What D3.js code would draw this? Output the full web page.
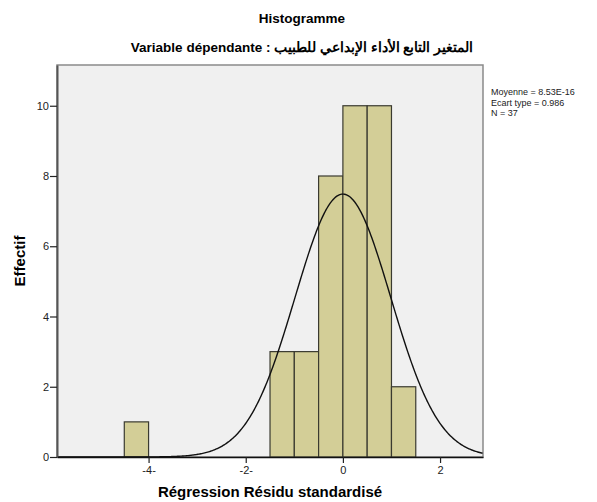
<!DOCTYPE html>
<html>
<head>
<meta charset="utf-8">
<script src="https://cdn.jsdelivr.net/npm/d3@7"></script>
<style>
  body { margin: 0; background: #fff; }
  svg { display: block; font-family: "Liberation Sans", Arial, sans-serif; }
</style>
</head>
<body>
<div class="graphic"></div>
<script>
// histogram of standardized residuals (SPSS style)
var binLower = [-4.5, -1.5, -1.0, -0.5, 0.0, 0.5, 1.0];
var counts = [1, 3, 3, 8, 10, 10, 2];
var binWidth = 0.5;

var xTicks = [-4, -2, 0, 2];
var xTickLabels = ["-4-", "-2-", "0", "2"];
var yTicks = [0, 2, 4, 6, 8, 10];

var statMean = 8.53e-16;
var statSd = 0.986;
var statN = 37;
var statLines = ["Moyenne = 8.53E-16", "Ecart type = 0.986", "N = 37"];

var width = 597, height = 502;
var plot = { left: 57, top: 65, right: 483, bottom: 457 };

var svg = d3.select(".graphic").append("svg")
  .attr("width", width)
  .attr("height", height);

var x = d3.scaleLinear().domain([-5.885, 2.884]).range([plot.left, plot.right]);
var y = d3.scaleLinear().domain([0, 11.16]).range([plot.bottom, plot.top]);

// titles
svg.append("text")
  .attr("x", 302).attr("y", 23)
  .attr("text-anchor", "middle")
  .attr("font-size", 13.5).attr("font-weight", "bold")
  .text("Histogramme");

svg.append("text")
  .attr("x", 302).attr("y", 52)
  .attr("text-anchor", "middle")
  .attr("font-size", 13.5).attr("font-weight", "bold")
  .attr("direction", "ltr")
  .text("Variable dépendante : \u202Bالمتغير التابع الأداء الإبداعي للطبيب\u202C");

// plot background
svg.append("rect")
  .attr("x", plot.left).attr("y", plot.top)
  .attr("width", plot.right - plot.left)
  .attr("height", plot.bottom - plot.top)
  .attr("fill", "#f0f0f0")
  .attr("stroke", "#8a8a8a")
  .attr("stroke-width", 1.5);

svg.append("clipPath").attr("id", "clip")
  .append("rect")
  .attr("x", plot.left).attr("y", plot.top)
  .attr("width", plot.right - plot.left)
  .attr("height", plot.bottom - plot.top);

// bars
svg.append("g").selectAll("rect")
  .data(counts)
  .enter()
  .append("rect")
  .attr("x", function(d, i) { return x(binLower[i]); })
  .attr("y", function(d) { return y(d); })
  .attr("width", function(d, i) { return x(binLower[i] + binWidth) - x(binLower[i]); })
  .attr("height", function(d) { return y(0) - y(d); })
  .attr("fill", "#d3ce97")
  .attr("stroke", "#3a3a30")
  .attr("stroke-width", 1.2);

// normal curve
var curvePts = d3.range(x.domain()[0], x.domain()[1] + 0.01, 0.02).map(function(v) {
  var z = (v - statMean) / statSd;
  return [v, statN * binWidth * Math.exp(-0.5 * z * z) / (statSd * Math.sqrt(2 * Math.PI))];
});

svg.append("path")
  .datum(curvePts)
  .attr("clip-path", "url(#clip)")
  .attr("fill", "none")
  .attr("stroke", "#111")
  .attr("stroke-width", 1.4)
  .attr("d", d3.line()
    .x(function(d) { return x(d[0]); })
    .y(function(d) { return y(d[1]); }));

// axes
var yAxis = svg.append("g")
  .attr("transform", "translate(" + plot.left + ",0)")
  .call(d3.axisLeft(y).tickValues(yTicks).tickSize(7).tickPadding(1).tickSizeOuter(0));

var xAxis = svg.append("g")
  .attr("transform", "translate(0," + plot.bottom + ")")
  .call(d3.axisBottom(x).tickValues(xTicks).tickSize(6).tickPadding(3).tickSizeOuter(0)
    .tickFormat(function(d, i) { return xTickLabels[i]; }));

[yAxis, xAxis].forEach(function(g) {
  g.selectAll("text").attr("font-size", 11).attr("fill", "#222")
    .attr("font-family", "Liberation Sans, Arial, sans-serif");
  g.selectAll("line").attr("stroke", "#222").attr("stroke-width", 1.2);
});
yAxis.select(".domain").attr("stroke", "#555").attr("stroke-width", 2);
xAxis.select(".domain").attr("stroke", "#111").attr("stroke-width", 1.5);

// axis titles
svg.append("text")
  .attr("transform", "translate(" + 25 + "," + ((plot.top + plot.bottom) / 2) + ") rotate(-90)")
  .attr("text-anchor", "middle")
  .attr("font-size", 15).attr("font-weight", "bold")
  .text("Effectif");

svg.append("text")
  .attr("x", (plot.left + plot.right) / 2).attr("y", 497)
  .attr("text-anchor", "middle")
  .attr("font-size", 15).attr("font-weight", "bold")
  .text("Régression Résidu standardisé");

// stats box text
svg.append("g").selectAll("text")
  .data(statLines)
  .enter()
  .append("text")
  .attr("x", 491)
  .attr("y", function(d, i) { return 95 + i * 10.5; })
  .attr("font-size", 9)
  .attr("fill", "#222")
  .text(function(d) { return d; });
</script>
</body>
</html>
